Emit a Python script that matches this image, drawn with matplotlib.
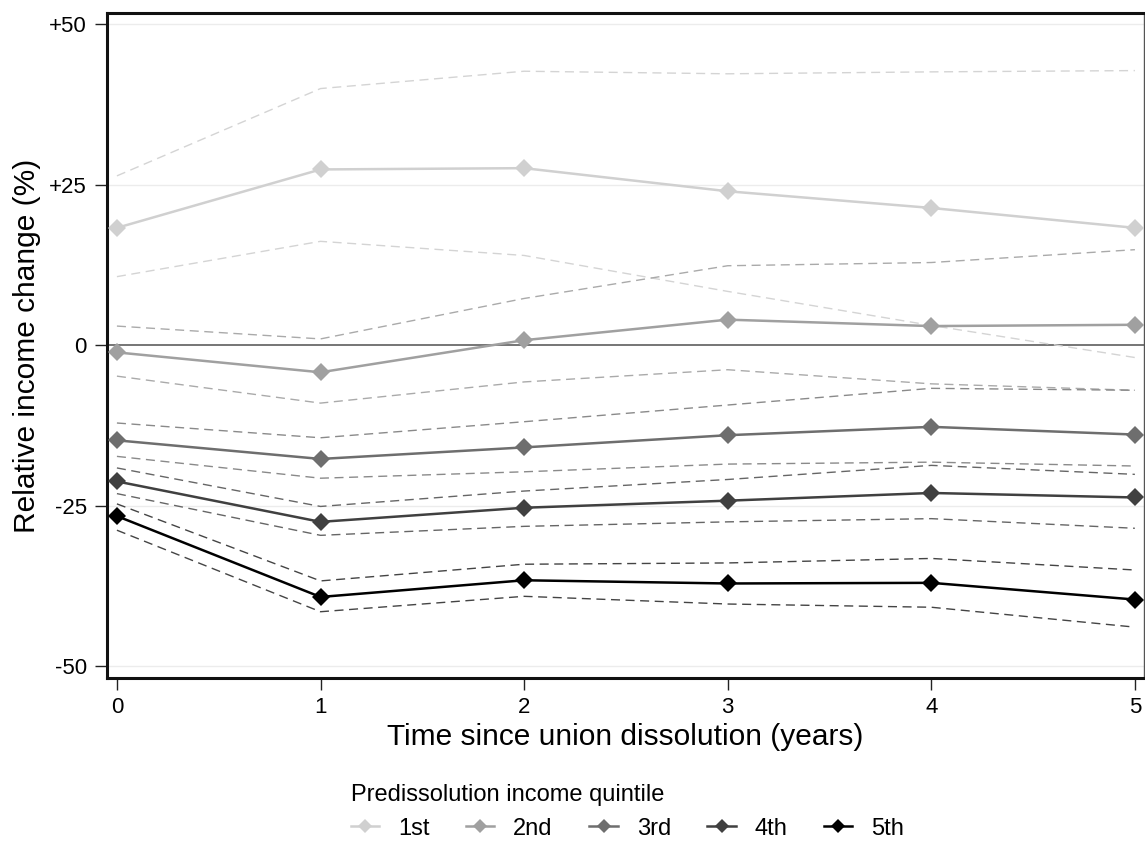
import numpy as np
import matplotlib.pyplot as plt

plt.rcParams['font.family'] = ['Liberation Sans', 'DejaVu Sans']

# DATA
years = [0, 1, 2, 3, 4, 5]
labels = ["1st", "2nd", "3rd", "4th", "5th"]

q1_mean = [18.3, 27.4, 27.6, 24.0, 21.4, 18.3]
q1_lo = [10.7, 16.2, 14.0, 8.4, 3.1, -1.9]
q1_hi = [26.4, 40.0, 42.7, 42.3, 42.6, 42.8]

q2_mean = [-1.1, -4.2, 0.8, 4.0, 3.0, 3.2]
q2_lo = [-4.8, -9.0, -5.7, -3.8, -6.0, -7.0]
q2_hi = [3.0, 1.0, 7.3, 12.4, 12.9, 14.9]

q3_mean = [-14.8, -17.7, -15.9, -14.0, -12.7, -13.9]
q3_lo = [-17.3, -20.7, -19.7, -18.5, -18.2, -18.8]
q3_hi = [-12.1, -14.4, -11.9, -9.3, -6.7, -7.0]

q4_mean = [-21.2, -27.5, -25.3, -24.2, -23.0, -23.7]
q4_lo = [-23.1, -29.6, -28.2, -27.5, -27.0, -28.5]
q4_hi = [-19.1, -25.1, -22.7, -20.9, -18.7, -20.1]

q5_mean = [-26.6, -39.2, -36.6, -37.1, -37.0, -39.6]
q5_lo = [-28.8, -41.5, -39.1, -40.3, -40.8, -43.9]
q5_hi = [-24.7, -36.7, -34.1, -33.9, -33.2, -35.0]

yticks = [50, 25, 0, -25, -50]
ytick_labels = ["+50", "+25", "0", "-25", "-50"]

# STYLE
line_cols = ["#d0d0d0", "#a0a0a0", "#6e6e6e", "#404040", "#000000"]
ci_cols = ["#d4d4d4", "#aaaaaa", "#8a8a8a", "#666666", "#444444"]

means = [q1_mean, q2_mean, q3_mean, q4_mean, q5_mean]
los = [q1_lo, q2_lo, q3_lo, q4_lo, q5_lo]
his = [q1_hi, q2_hi, q3_hi, q4_hi, q5_hi]

fig = plt.figure(figsize=(11.45, 8.41), dpi=100)
ax = fig.add_axes([0.0934, 0.194, 0.9056, 0.790])

# light gridlines + zero line
for yv in [50, 25, -25, -50]:
    ax.axhline(yv, color="#ececec", lw=1.0, zorder=0)
ax.axhline(0, color="#6a6a6a", lw=1.3, zorder=1)

# CI dashed lines
for i in range(5):
    ax.plot(years, los[i], color=ci_cols[i], lw=1.0, dashes=(6.5, 4), zorder=2)
    ax.plot(years, his[i], color=ci_cols[i], lw=1.0, dashes=(6.5, 4), zorder=2)

# mean lines with diamonds
for i in range(5):
    ax.plot(years, means[i], color=line_cols[i], lw=1.8, marker="D",
            markersize=9.5, markeredgewidth=0, label=labels[i], zorder=3 + i,
            clip_on=False)

ax.set_xlim(-0.049, 5.044)
ax.set_ylim(-51.8, 51.7)
ax.set_xticks(years)
ax.set_yticks(yticks)
ax.set_yticklabels(ytick_labels)
ax.tick_params(axis="both", direction="out", labelsize=16, width=1.0,
               color="#222222", length=8.6)
ax.tick_params(axis="x", pad=5)
ax.tick_params(axis="y", pad=6)

for s in ["left", "bottom", "top"]:
    ax.spines[s].set_linewidth(2.2)
    ax.spines[s].set_color("#111111")
ax.spines["right"].set_linewidth(1.0)
ax.spines["right"].set_color("#555555")

ax.set_xlabel("Time since union dissolution (years)", fontsize=21.5, labelpad=4)
ax.set_ylabel("Relative income change (%)", fontsize=21.5, labelpad=6)

leg = fig.legend(handles=ax.get_lines()[-5:], loc="upper left",
                 bbox_to_anchor=(0.296, 0.082), ncol=5, frameon=False,
                 fontsize=17, title="Predissolution income quintile",
                 title_fontsize=17, alignment="left", handlelength=1.2,
                 handletextpad=0.8, columnspacing=1.55, borderpad=0.0,
                 markerscale=0.75)

fig.savefig("out.png", dpi=100)
